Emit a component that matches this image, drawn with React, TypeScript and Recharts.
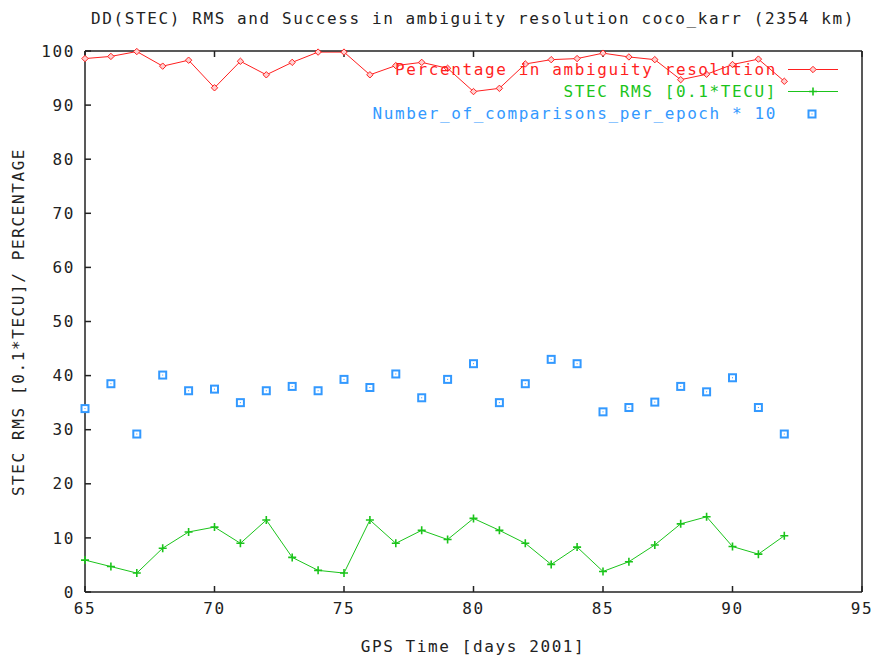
import React from 'react';
import { ComposedChart, Line, XAxis, YAxis } from 'recharts';

const days = [65, 66, 67, 68, 69, 70, 71, 72, 73, 74, 75, 76, 77, 78, 79, 80, 81, 82, 83, 84, 85, 86, 87, 88, 89, 90, 91, 92];
const percentage = [98.6, 99.0, 99.9, 97.2, 98.3, 93.2, 98.1, 95.6, 97.9, 99.8, 99.8, 95.6, 97.3, 97.9, 96.8, 92.5, 93.1, 97.6, 98.4, 98.6, 99.6, 98.9, 98.4, 94.7, 95.7, 97.5, 98.5, 94.4];
const stecRms = [5.9, 4.7, 3.5, 8.1, 11.1, 12.0, 9.0, 13.3, 6.4, 4.0, 3.5, 13.3, 9.0, 11.4, 9.7, 13.6, 11.4, 9.0, 5.1, 8.3, 3.8, 5.6, 8.7, 12.6, 13.9, 8.4, 7.0, 10.4];
const comparisons = [33.9, 38.5, 29.2, 40.1, 37.2, 37.5, 35.0, 37.2, 38.0, 37.2, 39.3, 37.8, 40.3, 35.9, 39.3, 42.2, 35.0, 38.5, 43.0, 42.2, 33.3, 34.1, 35.1, 38.0, 37.0, 39.6, 34.1, 29.2];

const xTicks = [65, 70, 75, 80, 85, 90, 95];
const yTicks = [0, 10, 20, 30, 40, 50, 60, 70, 80, 90, 100];

const titleText = 'DD(STEC) RMS and Success in ambiguity resolution coco_karr (2354 km)';
const xLabel = 'GPS Time [days 2001]';
const yLabel = 'STEC RMS [0.1*TECU]/ PERCENTAGE';
const legendNames = ['Percentage in ambiguity resolution', 'STEC RMS [0.1*TECU]', 'Number_of_comparisons_per_epoch * 10'];

const RED = '#ff1f1f';
const GREEN = '#1bc41b';
const BLUE = '#3399ff';
const AXIS = '#222';

const data = days.map((d, i) => ({ day: d, pct: percentage[i], rms: stecRms[i], cmp: comparisons[i] }));

const FONT = '"DejaVu Sans Mono", monospace';
const FS = 16;
const LS = 1.6;

const Diamond = (props: any) => {
  const { cx, cy } = props;
  if (cx == null || cy == null) return null;
  const r = 3.2;
  return <path d={`M${cx},${cy - r}L${cx + r},${cy}L${cx},${cy + r}L${cx - r},${cy}Z`} fill="#ffd0d0" stroke={RED} strokeWidth={1} />;
};
const Plus = (props: any) => {
  const { cx, cy } = props;
  if (cx == null || cy == null) return null;
  const r = 4;
  return <path d={`M${cx - r},${cy}H${cx + r}M${cx},${cy - r}V${cy + r}`} stroke={GREEN} strokeWidth={1.6} fill="none" />;
};
const Square = (props: any) => {
  const { cx, cy } = props;
  if (cx == null || cy == null) return null;
  return (
    <g>
      <rect x={cx - 3.5} y={cy - 3.5} width={7} height={7} fill="#fff" stroke={BLUE} strokeWidth={2} />
      <rect x={cx - 0.5} y={cy - 0.5} width={1} height={1} fill={BLUE} />
    </g>
  );
};

const tickStyle = { fontFamily: FONT, fontSize: FS, fill: AXIS, letterSpacing: LS };
const axisLine = { stroke: AXIS, strokeWidth: 1.5 };

export default function App() {
  return (
    <div style={{ position: 'absolute', left: 0, top: 0, width: 873, height: 657, background: '#fff' }}>
      <ComposedChart width={873} height={657} data={data} margin={{ top: 51, right: 11, bottom: 65, left: 85 }}>
        <XAxis xAxisId="b" dataKey="day" type="number" domain={[65, 95]} ticks={xTicks} height={1} orientation="bottom"
          tickSize={6} mirror tickMargin={-28} tick={tickStyle} axisLine={axisLine} tickLine={axisLine} interval={0} />
        <XAxis xAxisId="t" dataKey="day" type="number" domain={[65, 95]} ticks={xTicks} height={1} orientation="top"
          tickSize={6} mirror tickFormatter={() => ''} axisLine={axisLine} tickLine={axisLine} interval={0} />
        <YAxis yAxisId="l" type="number" domain={[0, 100]} ticks={yTicks} width={1} orientation="left"
          tickSize={6} mirror tickMargin={-16} tick={{ ...tickStyle, textAnchor: 'end' }} axisLine={axisLine} tickLine={axisLine} interval={0} />
        <YAxis yAxisId="r" type="number" domain={[0, 100]} ticks={yTicks} width={1} orientation="right"
          tickSize={6} mirror tickFormatter={() => ''} axisLine={axisLine} tickLine={axisLine} interval={0} />
        <Line xAxisId="b" yAxisId="l" dataKey="pct" stroke={RED} strokeWidth={1} dot={<Diamond />} activeDot={false} isAnimationActive={false} type="linear" />
        <Line xAxisId="b" yAxisId="l" dataKey="rms" stroke={GREEN} strokeWidth={1} dot={<Plus />} activeDot={false} isAnimationActive={false} type="linear" />
        <Line xAxisId="b" yAxisId="l" dataKey="cmp" stroke="none" dot={<Square />} activeDot={false} isAnimationActive={false} type="linear" />
      </ComposedChart>
      <svg width={873} height={657} style={{ position: 'absolute', left: 0, top: 0, pointerEvents: 'none' }}>
        <g fontFamily={FONT} fontSize={FS} letterSpacing={LS}>
          <text x={473} y={24} textAnchor="middle" fill={AXIS}>{titleText}</text>
          <text x={473} y={652} textAnchor="middle" fill={AXIS}>{xLabel}</text>
          <text x={24} y={322} textAnchor="middle" fill={AXIS} transform="rotate(-90 24 322)">{yLabel}</text>
          <text x={777} y={75} textAnchor="end" fill={RED}>{legendNames[0]}</text>
          <text x={777} y={97} textAnchor="end" fill={GREEN}>{legendNames[1]}</text>
          <text x={777} y={119} textAnchor="end" fill={BLUE}>{legendNames[2]}</text>
        </g>
        <line x1={788} x2={838} y1={69.5} y2={69.5} stroke={RED} strokeWidth={1} />
        <Diamond cx={813} cy={69.5} />
        <line x1={788} x2={838} y1={91.5} y2={91.5} stroke={GREEN} strokeWidth={1} />
        <Plus cx={813} cy={91.5} />
        <Square cx={812} cy={114} />
      </svg>
    </div>
  );
}
